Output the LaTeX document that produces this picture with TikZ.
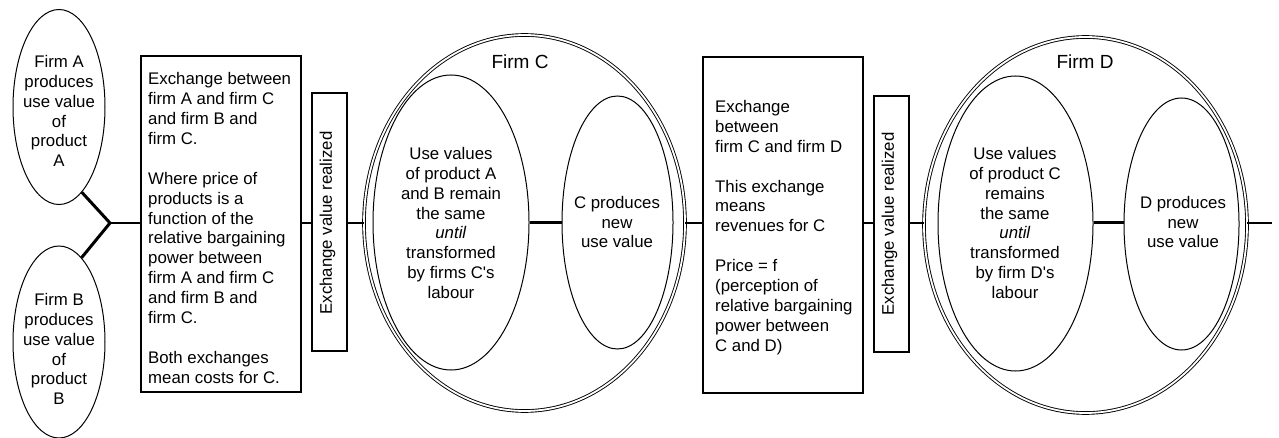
\documentclass[tikz,border=0pt]{standalone}
\usepackage{fontspec}
\setmainfont{Liberation Sans}
\usetikzlibrary{shapes.geometric}
\begin{document}
\begin{tikzpicture}[x=1pt,y=-1pt,
  txt/.style={font=\fontsize{16.8}{19.9}\selectfont, inner sep=0pt, align=center},
  ltxt/.style={font=\fontsize{16.8}{19.9}\selectfont, inner sep=0pt, align=left, anchor=west},
  ttl/.style={font=\fontsize{19}{22}\selectfont, inner sep=0pt},
  ell/.style={ellipse, draw, line width=1pt, inner sep=0pt},
  dell/.style={ellipse, draw, double, double distance=1.8pt, line width=0.9pt, inner sep=0pt},
  boxr/.style={rectangle, draw, line width=1.3pt, inner sep=0pt},
  link/.style={line width=2pt},
  tlink/.style={line width=3pt, line join=miter}]
\useasboundingbox (0,0) rectangle (1279,438);

% Firms A and B
\node[ell, minimum width=92, minimum height=195] (A) at (59,107) {};
\node[txt] (At) at (59,111) {Firm A\\produces\\use value\\of\\product\\A};
\node[ell, minimum width=92, minimum height=192] (B) at (59,342) {};
\node[txt] (Bt) at (59,349) {Firm B\\produces\\use value\\of\\product\\B};
\coordinate (J) at (110,223);

% Box 1
\node[boxr, minimum width=160, minimum height=336] (B1) at (221,224) {};
\node[ltxt] (B1t) at (148,228) {Exchange between\\firm A and firm C\\and firm B and\\firm C.\\[19.9pt]Where price of\\products is a\\function of the\\relative bargaining\\power between\\firm A and firm C\\and firm B and\\firm C.\\[19.9pt]Both exchanges\\mean costs for C.};

% Vertical box 1
\node[boxr, minimum width=35, minimum height=258] (V1) at (329.5,222) {};
\node[txt, rotate=90] (V1t) at (327.5,223) {Exchange value realized};

% Firm C
\node[dell, minimum width=321, minimum height=376] (C) at (524.5,223) {};
\node[ttl] (Ct) at (520,62) {Firm C};
\node[ell, minimum width=156, minimum height=295] (C1) at (451,222.5) {};
\node[txt] (C1t) at (451,223) {Use values\\of product A\\and B remain\\the same\\\textit{until}\\transformed\\by firms C\textquotesingle s\\labour};
\node[ell, minimum width=111, minimum height=253] (C2) at (617.5,222.5) {};
\node[txt] (C2t) at (617,222) {C produces\\new\\use value};

% Box 2
\node[boxr, minimum width=160, minimum height=336] (B2) at (783,225) {};
\node[ltxt] (B2t) at (715,227.5) {Exchange\\between\\firm C and firm D\\[19.9pt]This exchange\\means\\revenues for C\\[19.9pt]Price = f\\(perception of\\relative bargaining\\power between\\C and D)};

% Vertical box 2
\node[boxr, minimum width=35, minimum height=256] (V2) at (891.5,224) {};
\node[txt, rotate=90] (V2t) at (889.5,224) {Exchange value realized};

% Firm D
\node[dell, minimum width=323, minimum height=376] (D) at (1085.5,225) {};
\node[ttl] (Dt) at (1085,62) {Firm D};
\node[ell, minimum width=155, minimum height=295] (D1) at (1015.5,223.5) {};
\node[txt] (D1t) at (1015,223) {Use values\\of product C\\remains\\the same\\\textit{until}\\transformed\\by firm D\textquotesingle s\\labour};
\node[ell, minimum width=115, minimum height=252] (D2) at (1181.5,224) {};
\node[txt] (D2t) at (1183,222) {D produces\\new\\use value};
\coordinate (E) at (1272,223);

% Connectors
\draw[tlink] (A.-75) -- (J) -- (B.75);
\draw[link] (J) -- (J -| B1.west);
\draw[link] (B1.east |- J) -- (V1.west |- J);
\draw[link] (V1.east |- J) -- (C.west |- J);
\draw[tlink] (C1.east |- J) -- (C2.west |- J);
\draw[link] (C.east |- J) -- (B2.west |- J);
\draw[link] (B2.east |- J) -- (V2.west |- J);
\draw[link] (V2.east |- J) -- (D.west |- J);
\draw[tlink] (D1.east |- J) -- (D2.west |- J);
\draw[link] (D.east |- J) -- (E);
\end{tikzpicture}
\end{document}
